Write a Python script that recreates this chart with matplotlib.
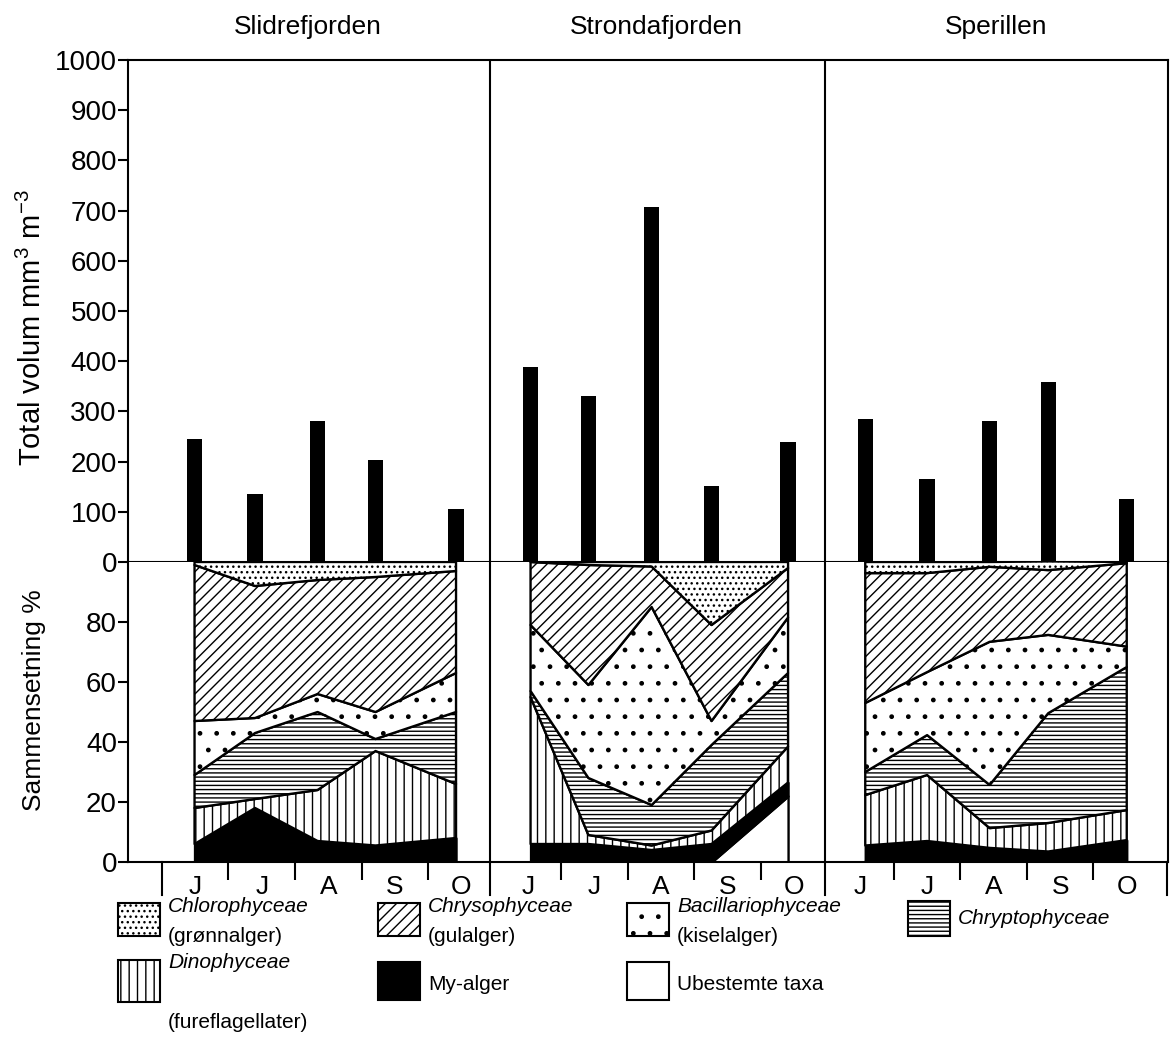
import matplotlib as mpl
import matplotlib.pyplot as plt
import matplotlib.transforms as mtransforms
from matplotlib.patches import Rectangle
from matplotlib import font_manager
import numpy as np

# ---------------- data ----------------
lakes = ["Slidrefjorden", "Strondafjorden", "Sperillen"]
months = ["J", "J", "A", "S", "O"]

# sampling dates, in month units counted from 1 June
days_slidre = [0.49, 1.40, 2.34, 3.21, 4.42]
days_strond = [0.54, 1.41, 2.36, 3.26, 4.41]
days_speril = [0.57, 1.50, 2.44, 3.32, 4.50]

# total volume, mm3 m-3
vol_slidre = [245, 135, 281, 203, 105]
vol_strond = [388, 331, 707, 151, 240]
vol_speril = [284, 166, 280, 359, 126]

# groups, bottom to top of the stacked composition
groups = ["Ubestemte taxa", "My-alger", "Dinophyceae", "Chryptophyceae",
          "Bacillariophyceae", "Chrysophyceae", "Chlorophyceae"]

# composition in % (one row per group, same order as groups)
comp_slidre = [
    [0, 0, 0, 0, 0],
    [6, 18, 7, 5.5, 8],
    [12, 3, 17, 31.5, 18],
    [11, 22, 26, 4, 24],
    [18, 5, 6, 9, 13],
    [52, 44, 38, 45, 34],
    [1, 8, 6, 5, 3],
]
comp_strond = [
    [0, 0, 0, 0, 22],
    [6, 6, 4, 6, 4.5],
    [49, 3, 1.5, 4.5, 12],
    [2, 19, 13.5, 28.5, 24.5],
    [22, 31, 66, 8, 18.5],
    [21, 40, 13.5, 32, 16.5],
    [0, 1, 1.5, 21, 2],
]
comp_speril = [
    [0, 0, 0, 0, 0],
    [5.5, 7, 4.7, 3.5, 7.3],
    [16.8, 22, 6.6, 9.5, 10],
    [7.7, 13.3, 14.4, 36.6, 47.7],
    [23, 21, 47.7, 26.1, 6.8],
    [43.3, 33, 25, 21.6, 27.8],
    [3.7, 3.7, 1.6, 2.9, 0.4],
]

# ---------------- style ----------------
face_cols = ["white", "black", "white", "white", "white", "white", "white"]
hatches = [None, None, "||", "----", ".", "///", "..."]

plt.rcdefaults()
mpl.rcParams['font.family'] = ['Liberation Sans', 'DejaVu Sans']
mpl.rcParams['mathtext.fontset'] = 'custom'
mpl.rcParams['mathtext.rm'] = 'Liberation Sans'
mpl.rcParams['hatch.linewidth'] = 1.0
mpl.rcParams['hatch.color'] = 'black'
mpl.rcParams['axes.linewidth'] = 1.5

try:
    font_manager.findfont('Liberation Sans Narrow', fallback_to_default=False)
    leg_family, leg_size = ['Liberation Sans Narrow', 'Liberation Sans'], 17
except ValueError:
    leg_family, leg_size = ['Liberation Sans'], 15

W, H = 1171, 1040
fig = plt.figure(figsize=(W / 100, H / 100), dpi=100)


def fx(px):
    return px / W


def fy(py):
    return 1 - py / H


ax1 = fig.add_axes([fx(128), fy(562), 1040 / W, 502 / H])
ax2 = fig.add_axes([fx(128), fy(862), 1040 / W, 300 / H])

xmin, xmax = -0.51, 15.12
seps = [4.93, 9.97]

all_days = [days_slidre, days_strond, days_speril]
all_vol = [vol_slidre, vol_strond, vol_speril]
all_comp = [comp_slidre, comp_strond, comp_speril]

for p in range(3):
    x = 5 * p + np.array(all_days[p])
    ax1.bar(x, all_vol[p], width=0.23, color='black', zorder=3)
    ax2.stackplot(x, *all_comp[p], colors=face_cols, hatch=hatches,
                  edgecolor='black', linewidth=1.7)

# upper panel
ax1.set_xlim(xmin, xmax)
ax1.set_ylim(0, 1000)
ax1.set_xticks([])
ax1.set_yticks(np.arange(0, 1001, 100))
ax1.tick_params(axis='y', direction='out', length=7, width=1.5,
                labelsize=20, pad=1)
for s in seps:
    ax1.axvline(s, color='black', lw=1.5)

# lower panel
ax2.set_xlim(xmin, xmax)
ax2.set_ylim(0, 100)
ax2.spines['top'].set_visible(False)
ax2.set_yticks([0, 20, 40, 60, 80])
ax2.tick_params(axis='y', direction='out', length=7, width=1.5,
                labelsize=20, pad=1)
ax2.set_xticks(np.arange(15) + 0.5)
ax2.set_xticklabels(months * 3)
ax2.set_xticks([k for k in range(1, 15) if k not in (5, 10)], minor=True)
ax2.tick_params(axis='x', which='major', length=0, labelsize=19, pad=9)
ax2.tick_params(axis='x', which='minor', direction='out', length=13,
                width=1.5)
trans = mtransforms.blended_transform_factory(ax2.transData, ax2.transAxes)
for s in seps:
    ax2.axvline(s, color='black', lw=1.5)
for s in [0] + seps + [xmax - 0.01]:
    ax2.plot([s, s], [0, -0.11], color='black', lw=1.5,
             transform=trans, clip_on=False)

# titles and axis labels
for name, cx in zip(lakes, [308, 656, 996]):
    fig.text(fx(cx), fy(27), name, ha='center', va='center', fontsize=19)
fig.text(fx(32), fy(328), 'Total volum mm$^3$ m$^{-3}$', rotation=90,
         ha='center', va='center', fontsize=21)
fig.text(fx(34), fy(700), 'Sammensetning %', rotation=90,
         ha='center', va='center', fontsize=19)

# ---------------- legend ----------------
leg_items = [
    # group index, patch left, patch top, patch height, latin name, common name
    (6, 118, 903, 33, "Chlorophyceae", "(grønnalger)"),
    (5, 378, 903, 33, "Chrysophyceae", "(gulalger)"),
    (4, 627, 903, 33, "Bacillariophyceae", "(kiselalger)"),
    (3, 908, 901, 35, "Chryptophyceae", None),
    (2, 118, 960, 42, "Dinophyceae", "(fureflagellater)"),
    (1, 378, 962, 38, None, "My-alger"),
    (0, 627, 962, 38, None, "Ubestemte taxa"),
]
for gi, left, top, hgt, latin, common in leg_items:
    fig.patches.append(Rectangle((fx(left), fy(top + hgt)), 42 / W, hgt / H,
                                 transform=fig.transFigure, figure=fig,
                                 facecolor=face_cols[gi], hatch=hatches[gi],
                                 edgecolor='black', linewidth=1.5))
    tx = fx(left + 50)
    if latin and common:
        fig.text(tx, fy(top + 3), latin, style='italic', ha='left',
                 va='center', fontsize=leg_size, family=leg_family)
        fig.text(tx, fy(top + hgt + (1 if hgt < 40 else 20)), common,
                 ha='left', va='center', fontsize=leg_size, family=leg_family)
    elif latin:
        fig.text(tx, fy(top + hgt / 2), latin, style='italic', ha='left',
                 va='center', fontsize=leg_size, family=leg_family)
    else:
        fig.text(tx, fy(top + hgt / 2 + 3), common, ha='left', va='center',
                 fontsize=leg_size, family=leg_family)

fig.savefig('out.png', dpi=100)
